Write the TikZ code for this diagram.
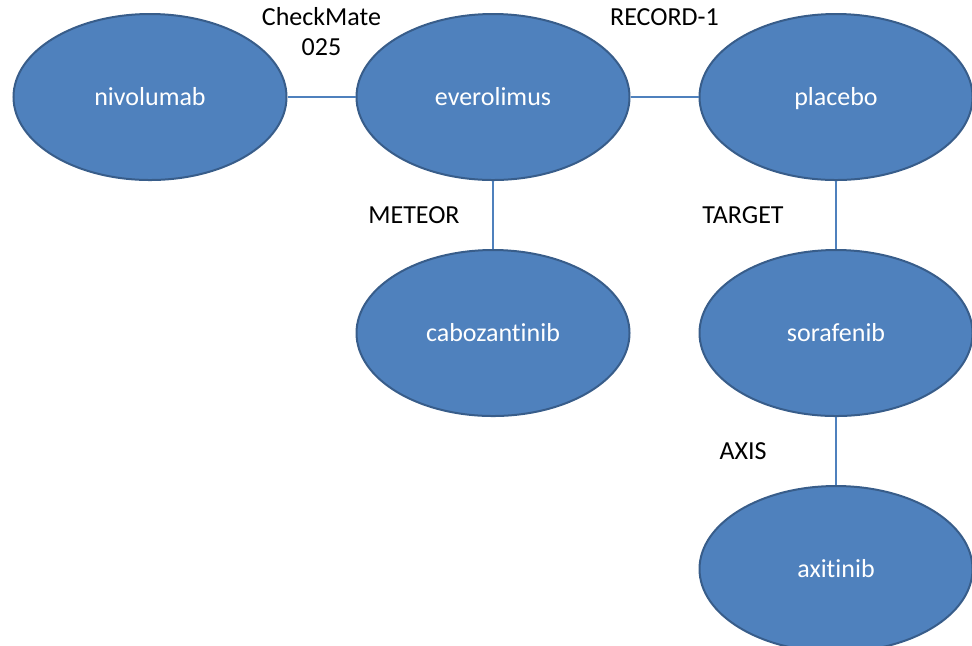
\documentclass[tikz,border=0pt]{standalone}
\usepackage{fontspec}
\setmainfont{Carlito}[Ligatures=NoCommon]
\usetikzlibrary{positioning,shapes.geometric}
\definecolor{drugblue}{RGB}{79,129,189}
\definecolor{drugedge}{RGB}{56,93,138}

\begin{document}
\begin{tikzpicture}[drug/.style = {draw=drugedge, line width=1pt, fill=drugblue, ellipse, minimum width=136.5pt, minimum height=83pt, inner sep=0pt, text=white, text height=10pt, text depth=1.5pt},
                    trial/.style = {inner sep=0pt, align=center, text=black},
                    link/.style = {draw=drugblue, line width=1.4pt},
                    node distance=34pt, font=\fontsize{13}{15}\selectfont]
        \useasboundingbox (0,0) rectangle (486pt,-322.5pt);

        \node[drug] (0) at (75pt,-48.5pt) {nivolumab};
        \node[drug] (1) [right=of 0] {everolimus};
        \node[drug] (2) [right=of 1] {placebo};
        \node[drug] (3) [below=of 1] {cabozantinib};
        \node[drug] (4) [below=of 2] {sorafenib};
        \node[drug] (5) [below=of 4] {axitinib};

        \draw[link] (0) -- node[midway, above=20pt, trial] {CheckMate\\025} (1);
        \draw[link] (1) -- node[midway, above=35pt, trial] {RECORD-1} (2);

        \draw[link] (1) -- node[midway, left=16pt, trial] {METEOR} (3);
        \draw[link] (2) -- node[midway, left=25.5pt, trial] {TARGET} (4);

        \draw[link] (4) -- node[midway, left=34pt, trial] {AXIS} (5);
\end{tikzpicture}
\end{document}
